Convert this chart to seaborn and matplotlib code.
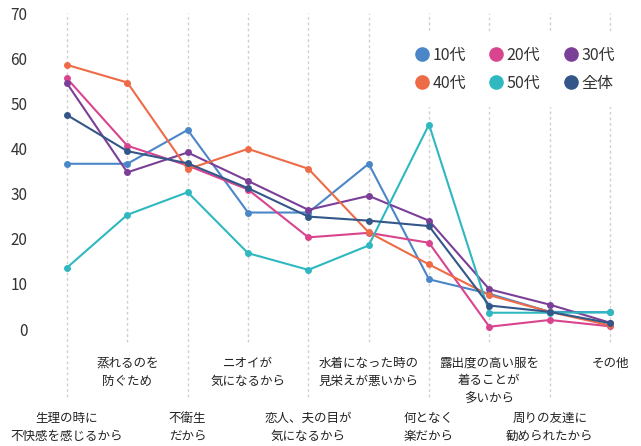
import pandas as pd
import matplotlib.pyplot as plt
from matplotlib.lines import Line2D
import seaborn as sns

# categories (reasons), ordered left to right
categories = ['生理の時に\n不快感を感じるから', '蒸れるのを\n防ぐため', '不衛生\nだから',
              'ニオイが\n気になるから', '恋人、夫の目が\n気になるから', '水着になった時の\n見栄えが悪いから',
              '何となく\n楽だから', '露出度の高い服を\n着ることが\n多いから', '周りの友達に\n勧められたから',
              'その他']

# percentages per age group
teens = [36.6, 36.6, 44.1, 25.8, 25.8, 36.6, 11.0, 7.8, 3.8, 3.7]
twenties = [55.5, 40.6, 36.2, 30.9, 20.3, 21.3, 19.1, 0.5, 2.0, 0.6]
thirties = [54.4, 34.7, 39.1, 32.8, 26.4, 29.5, 24.0, 8.8, 5.4, 1.4]
forties = [58.5, 54.6, 35.4, 39.9, 35.5, 21.4, 14.3, 7.5, 3.8, 0.8]
fifties = [13.6, 25.3, 30.3, 16.8, 13.1, 18.5, 45.3, 3.6, 3.6, 3.7]
overall = [47.4, 39.4, 36.7, 31.2, 24.9, 24.0, 22.8, 5.2, 3.8, 1.3]

series_names = ['10代', '20代', '30代', '40代', '50代', '全体']
series_values = [teens, twenties, thirties, forties, fifties, overall]
colors = ['#4a86c8', '#d9448f', '#7b3f98', '#ee6b47', '#2fb8c0', '#34578a']

rows = []
for name, vals in zip(series_names, series_values):
    for i, v in enumerate(vals):
        rows.append({'idx': i, 'value': v, 'group': name})
df = pd.DataFrame(rows)

sns.set_style('white')
plt.rcParams['font.family'] = ['Noto Sans CJK JP', 'DejaVu Sans']

fig = plt.figure(figsize=(6.41, 4.46), dpi=100)
ax = fig.add_axes([40 / 641, 1 - 329 / 446, 595 / 641, 316 / 446])

palette = dict(zip(series_names, colors))
sns.lineplot(data=df, x='idx', y='value', hue='group', palette=palette,
             marker='o', markersize=5, markeredgewidth=0, linewidth=1.5,
             sort=False, legend=False, ax=ax, clip_on=False, zorder=3)

ax.set_ylim(0, 70)
ax.set_xlim(-0.4475, 9.414)
ax.set_yticks(range(0, 71, 10))
ax.tick_params(axis='y', length=0, pad=9, labelsize=11, labelcolor='#333333')
ax.set_xticks([])
ax.set_xlabel('')
ax.set_ylabel('')
for s in ax.spines.values():
    s.set_visible(False)

# dotted category lines, running down to each label
trans = ax.get_xaxis_transform()
for i, label in enumerate(categories):
    low = i % 2 == 0
    ymin = -0.215 if low else -0.04
    ax.axvline(i, ymin=ymin, ymax=1, color='#d0d0d0', linestyle=(0, (2, 2)),
               linewidth=1, clip_on=False, zorder=1)
    ty = -0.262 if low else -0.087
    ax.text(i, ty, label, transform=trans, ha='center', va='top',
            fontsize=9, color='#222222', linespacing=1.5)

# legend fills column by column, so order handles to read row-wise
order = [0, 3, 1, 4, 2, 5]
handles = [Line2D([], [], marker='o', linestyle='', markersize=9.5,
                  color=colors[k], label=series_names[k]) for k in order]
leg = ax.legend(handles=handles, ncol=3, loc='center', bbox_to_anchor=(0.797, 0.822),
                frameon=True, facecolor='white', edgecolor='white', framealpha=1,
                handlelength=1.0, handletextpad=0.15, columnspacing=1.4,
                fontsize=11.5, borderpad=0.9, labelspacing=0.72)
leg.set_zorder(5)
for t in leg.get_texts():
    t.set_color('#333333')

fig.savefig('out.png', dpi=100)
